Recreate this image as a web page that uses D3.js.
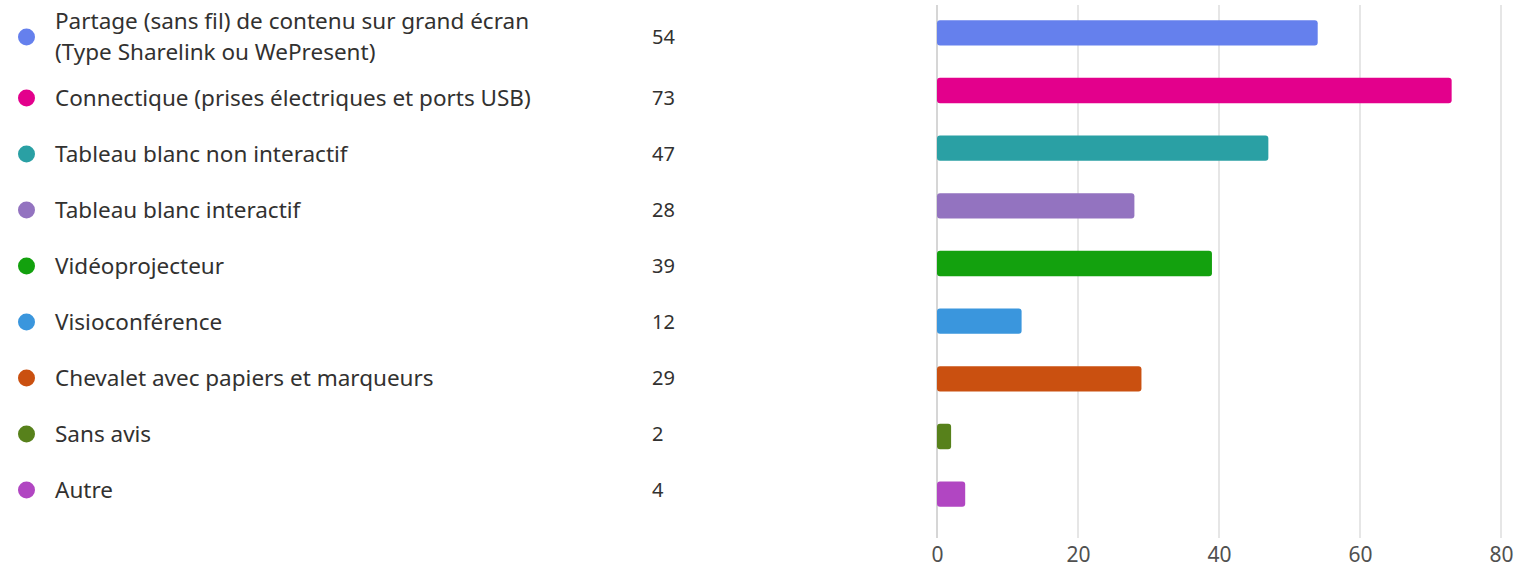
<!DOCTYPE html>
<html><head><meta charset="utf-8">
<script src="https://cdn.jsdelivr.net/npm/d3@7"></script>
<style>body{margin:0;background:#fff;} text{font-family:"Noto Sans",sans-serif;}</style>
</head><body>
<svg id="c" width="1517" height="568"></svg>
<script>
const categories = [
  ["Partage (sans fil) de contenu sur grand écran", "(Type Sharelink ou WePresent)"],
  ["Connectique (prises électriques et ports USB)"],
  ["Tableau blanc non interactif"],
  ["Tableau blanc interactif"],
  ["Vidéoprojecteur"],
  ["Visioconférence"],
  ["Chevalet avec papiers et marqueurs"],
  ["Sans avis"],
  ["Autre"]
];
const values = [54, 73, 47, 28, 39, 12, 29, 2, 4];
const colors = ["#6580ed", "#e3008c", "#2aa0a4", "#9373c0", "#13a10e", "#3a96dd", "#ca5010", "#57811b", "#b146c2"];
const ticks = [0, 20, 40, 60, 80];

const svg = d3.select("#c");
const x = d3.scaleLinear().domain([0, 80]).range([937, 1501]);
const y = d3.scaleBand().domain(d3.range(values.length)).range([4, 523]).paddingInner(0.56).paddingOuter(0.28);
const legendY = [37, 98, 154, 210, 266, 322, 378, 434, 490];

// gridlines
svg.append("g").selectAll("line").data(ticks).join("line")
  .attr("x1", d => x(d)).attr("x2", d => x(d))
  .attr("y1", 5).attr("y2", 538)
  .attr("stroke", d => d === 0 ? "#d6d6d6" : "#e6e6e6").attr("stroke-width", 2);

// axis
const axis = d3.axisBottom(x).tickValues(ticks).tickSize(0).tickPadding(0);
const ag = svg.append("g").attr("transform", "translate(0,562)").call(axis);
ag.select(".domain").remove();
ag.selectAll("text").attr("fill", "#505050").style("font-size", "21px").attr("y", 0).attr("dy", "0")
  .style("font-family", "'Noto Sans',sans-serif");

// bars
svg.append("g").selectAll("rect").data(values).join("rect")
  .attr("x", x(0)).attr("y", (d, i) => y(i))
  .attr("width", d => x(d) - x(0)).attr("height", y.bandwidth())
  .attr("rx", 3).attr("fill", (d, i) => colors[i]);

// legend
const lg = svg.append("g");
const rows = lg.selectAll("g").data(categories).join("g")
  .attr("transform", (d, i) => `translate(0,${legendY[i]})`);
rows.append("circle").attr("cx", 26.5).attr("cy", 0).attr("r", 8.5).attr("fill", (d, i) => colors[i]);
rows.append("text").attr("x", 55).attr("fill", "#323130").style("font-size", "22.5px")
  .each(function(d) {
    const t = d3.select(this);
    const n = d.length;
    d.forEach((line, k) => {
      t.append("tspan").attr("x", 55).attr("y", (k - (n - 1) / 2) * 31).attr("dy", "0.35em").text(line);
    });
  });
rows.append("text").attr("x", 652).attr("y", 0).attr("dy", "0.35em")
  .attr("fill", "#323130").style("font-size", "20px").text((d, i) => values[i]);
</script>
</body></html>
